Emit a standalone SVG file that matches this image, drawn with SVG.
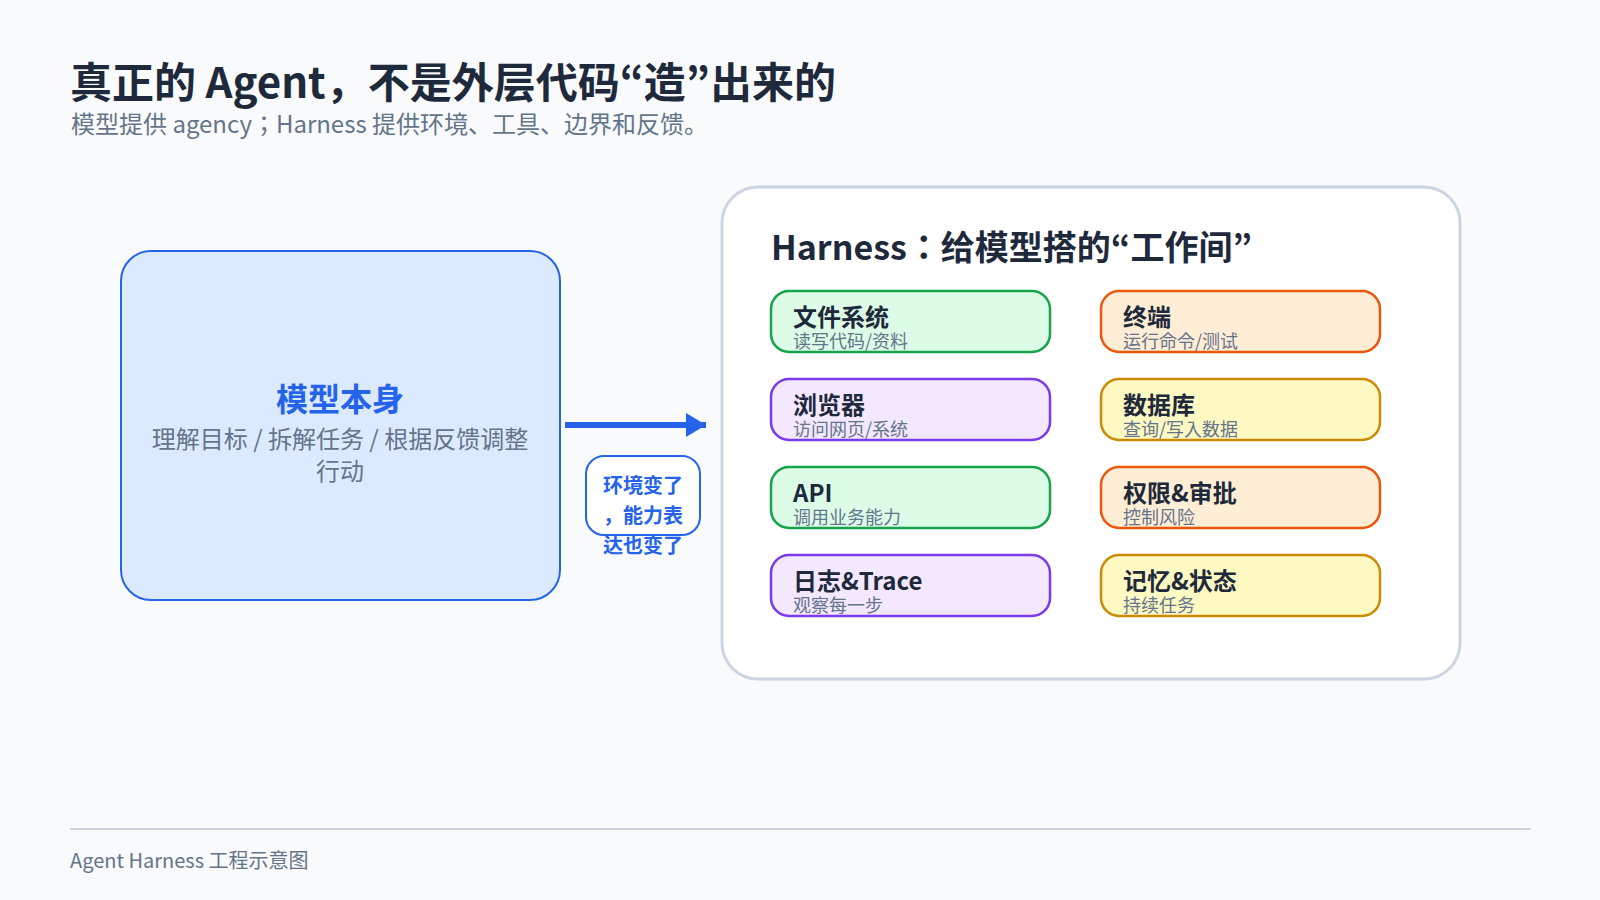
<svg xmlns="http://www.w3.org/2000/svg" width="1600" height="900" viewBox="0 0 1600 900">
<style>
text{font-family:"Noto Sans CJK JP","Noto Sans CJK SC","Noto Sans",sans-serif}
.t{font-weight:700;fill:#1e293b}
.sub{fill:#64748b}
.ct{font-size:24px;font-weight:700;fill:#1e293b}
.cd{font-size:18px;fill:#64748b}
.card{stroke-width:2.5}
.g{fill:#dcfce7;stroke:#16a34a}
.o{fill:#ffedd5;stroke:#ea580c}
.p{fill:#f3e8ff;stroke:#7c3aed}
.y{fill:#fef9c3;stroke:#ca8a04}
</style>
<defs>
<marker id="ah" viewBox="0 0 20 24" refX="20" refY="12" markerWidth="20" markerHeight="24" markerUnits="userSpaceOnUse" orient="auto">
<path d="M0,0 L20,12 L0,24 Z" fill="#2563eb"/>
</marker>
</defs>
<rect width="1600" height="900" fill="#f8fafc"/>
<g id="header">
<text x="70" y="98" class="t" font-size="42">真正的 Agent，不是外层代码“造”出来的</text>
<text x="71" y="133" class="sub" font-size="24">模型提供 agency；Harness 提供环境、工具、边界和反馈。</text>
</g>
<g id="model">
<rect x="121" y="251" width="439" height="349" rx="30" fill="#dbeafe" stroke="#2563eb" stroke-width="2"/>
<text x="340" y="411" text-anchor="middle" font-size="32" font-weight="700" fill="#2563eb">模型本身</text>
<text x="340" y="448" text-anchor="middle" class="sub" font-size="24">理解目标 / 拆解任务 / 根据反馈调整</text>
<text x="340" y="480" text-anchor="middle" class="sub" font-size="24">行动</text>
</g>
<g id="connectors">
<line x1="565" y1="425" x2="706" y2="425" stroke="#2563eb" stroke-width="6" marker-end="url(#ah)"/>
<rect x="586" y="456" width="114" height="79" rx="18" fill="#ffffff" stroke="#2563eb" stroke-width="2"/>
<g font-size="20" font-weight="700" fill="#2563eb" text-anchor="middle">
<text x="643" y="493">环境变了</text>
<text x="643" y="523">，能力表</text>
<text x="643" y="553">达也变了</text>
</g>
</g>
<g id="harness">
<rect x="722" y="187" width="738" height="492" rx="36" fill="#ffffff" stroke="#cbd5e1" stroke-width="3"/>
<text x="771" y="260" class="t" font-size="34">Harness：给模型搭的“工作间”</text>
</g>
<g id="fs"><rect class="card g" x="771" y="291" width="279" height="61" rx="18"/><text x="793" y="326" class="ct">文件系统</text><text x="793" y="348" class="cd">读写代码/资料</text></g>
<g id="terminal"><rect class="card o" x="1101" y="291" width="279" height="61" rx="18"/><text x="1123" y="326" class="ct">终端</text><text x="1123" y="348" class="cd">运行命令/测试</text></g>
<g id="browser"><rect class="card p" x="771" y="379" width="279" height="61" rx="18"/><text x="793" y="414" class="ct">浏览器</text><text x="793" y="436" class="cd">访问网页/系统</text></g>
<g id="db"><rect class="card y" x="1101" y="379" width="279" height="61" rx="18"/><text x="1123" y="414" class="ct">数据库</text><text x="1123" y="436" class="cd">查询/写入数据</text></g>
<g id="api"><rect class="card g" x="771" y="467" width="279" height="61" rx="18"/><text x="793" y="502" class="ct">API</text><text x="793" y="524" class="cd">调用业务能力</text></g>
<g id="perm"><rect class="card o" x="1101" y="467" width="279" height="61" rx="18"/><text x="1123" y="502" class="ct">权限&amp;审批</text><text x="1123" y="524" class="cd">控制风险</text></g>
<g id="log"><rect class="card p" x="771" y="555" width="279" height="61" rx="18"/><text x="793" y="590" class="ct">日志&amp;Trace</text><text x="793" y="612" class="cd">观察每一步</text></g>
<g id="mem"><rect class="card y" x="1101" y="555" width="279" height="61" rx="18"/><text x="1123" y="590" class="ct">记忆&amp;状态</text><text x="1123" y="612" class="cd">持续任务</text></g>
<g id="footer">
<line x1="70" y1="829" x2="1531" y2="829" stroke="#cbd5e1" stroke-width="2"/>
<text x="70" y="868" class="sub" font-size="20">Agent Harness 工程示意图</text>
</g>
</svg>
